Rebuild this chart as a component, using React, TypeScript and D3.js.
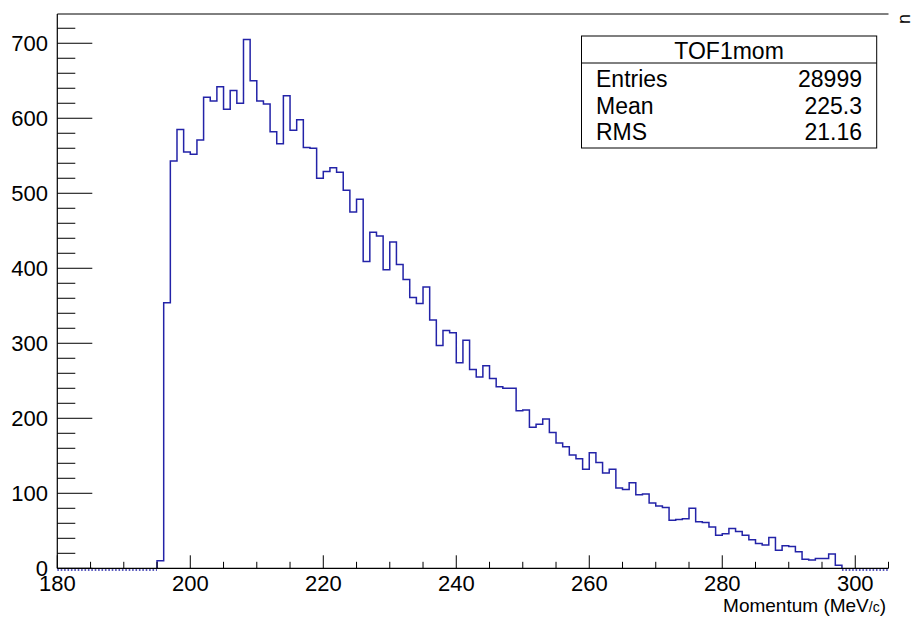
import React from "react";
import * as d3 from "d3";

const xMin = 180;
const xMax = 305;
const nBins = 125;
// counts per 1 MeV/c bin, from 180 to 305
const counts = [
  0, 0, 0, 0, 0, 0, 0, 0, 0, 0, 0, 0, 0, 0, 0, // 180-194
  10, 354, 543, 585, 555, // 195-199
  552, 571, 628, 623, 642, 612, 637, 620, 705, 650, // 200-209
  623, 619, 582, 566, 630, 584, 598, 561, 560, 520, // 210-219
  529, 534, 528, 504, 475, 492, 409, 448, 443, 398, // 220-229
  435, 405, 385, 361, 353, 375, 331, 297, 317, 314, // 230-239
  274, 304, 265, 255, 270, 253, 242, 240, 240, 210, // 240-249
  211, 188, 192, 199, 181, 167, 162, 151, 146, 132, // 250-259
  154, 141, 127, 132, 107, 105, 114, 98, 99, 87, // 260-269
  83, 81, 64, 65, 66, 80, 62, 61, 55, 44, // 270-279
  46, 53, 49, 44, 38, 33, 31, 41, 24, 30, // 280-289
  29, 22, 12, 11, 13, 13, 19, 4, 0, 0, // 290-299
  0, 0, 0, 0, 0, // 300-304
];
const xTicksMajor = [180, 200, 220, 240, 260, 280, 300];
const yTicksMajor = [0, 100, 200, 300, 400, 500, 600, 700];
const statsTitle = "TOF1mom";
const statsLabels = ["Entries", "Mean", "RMS"];
const statsValues = ["28999", "225.3", "21.16"];

const W = 924;
const H = 617;
const FONT = "'Liberation Sans', Arial, Helvetica, sans-serif";
const HIST_COLOR = "#2323a8";

export default function App() {
  const yMax = 739;
  const x = d3.scaleLinear().domain([xMin, xMax]).range([57.3, 888.5]);
  const y = d3.scaleLinear().domain([0, yMax]).range([568.3, 14]);
  const bw = (xMax - xMin) / nBins;

  const first = counts.findIndex((c) => c > 0);
  const last = counts.length - 1 - [...counts].reverse().findIndex((c) => c > 0);

  const pts: [number, number][] = [];
  pts.push([x(xMin + first * bw), y(0)]);
  for (let i = first; i <= last; i++) pts.push([x(xMin + i * bw), y(counts[i])]);
  pts.push([x(xMin + (last + 1) * bw), y(counts[last])]);
  pts.push([x(xMin + (last + 1) * bw), y(0)]);
  const line = d3.line().curve(d3.curveStepAfter);
  const path = line(pts) || "";

  const xMinor = d3.range(xMin, xMax + 0.001, 5);
  const yMinor = d3.range(0, yMax, 20);

  const box = { x0: 581.5, x1: 876.7, y0: 36, y1: 148, div: 63 };
  const rowCenters = [79, 105.5, 132];

  return (
    <svg
      width={W}
      height={H}
      style={{ position: "absolute", left: 0, top: 0, background: "#fff" }}
      fontFamily={FONT}
    >
      <rect x={0} y={0} width={W} height={H} fill="#fff" />
      {/* zero bins dotted */}
      <line
        x1={x(xMin)}
        x2={x(xMin + first * bw)}
        y1={570}
        y2={570}
        stroke={HIST_COLOR}
        strokeWidth={1.3}
        strokeDasharray="1.6,1.8"
      />
      <line
        x1={x(xMin + (last + 1) * bw)}
        x2={x(xMax)}
        y1={570}
        y2={570}
        stroke={HIST_COLOR}
        strokeWidth={1.3}
        strokeDasharray="1.6,1.8"
      />
      <path d={path} fill="none" stroke={HIST_COLOR} strokeWidth={1.5} />

      {/* frame */}
      <line x1={x(xMin)} x2={x(xMax)} y1={14} y2={14} stroke="#000" strokeWidth={1} />
      <line x1={x(xMin)} x2={x(xMin)} y1={14} y2={y(0)} stroke="#000" strokeWidth={1.2} />
      <line x1={x(xMin)} x2={x(xMax)} y1={y(0)} y2={y(0)} stroke="#000" strokeWidth={1.2} />

      {/* y ticks */}
      {yMinor.map((v) => (
        <line
          key={"ym" + v}
          x1={x(xMin)}
          x2={x(xMin) + (v % 100 === 0 ? 35 : 18)}
          y1={y(v)}
          y2={y(v)}
          stroke="#000"
          strokeWidth={1}
        />
      ))}
      {yTicksMajor.map((v) => (
        <text key={"yl" + v} x={48} y={y(v)} dy="0.36em" fontSize={22} textAnchor="end" fill="#000">
          {v}
        </text>
      ))}

      {/* x ticks */}
      {xMinor.map((v) => (
        <line
          key={"xm" + v}
          x1={x(v)}
          x2={x(v)}
          y1={y(0)}
          y2={y(0) - ((v - xMin) % 20 === 0 ? 13 : 6.5)}
          stroke="#000"
          strokeWidth={1}
        />
      ))}
      {xTicksMajor.map((v) => (
        <text key={"xl" + v} x={x(v)} y={591} fontSize={22} textAnchor="middle" fill="#000">
          {v}
        </text>
      ))}

      <text x={886} y={612} fontSize={19} textAnchor="end" fill="#000">
        Momentum (MeV
        <tspan fontSize={14}>/c</tspan>
        <tspan fontSize={19}>)</tspan>
      </text>

      <text x={0} y={0} fontSize={18} fill="#000" transform="translate(910,24) rotate(-90)">
        n
      </text>

      {/* stats box */}
      <rect
        x={box.x0}
        y={box.y0}
        width={box.x1 - box.x0}
        height={box.y1 - box.y0}
        fill="#fff"
        stroke="#000"
        strokeWidth={1}
      />
      <line x1={box.x0} x2={box.x1} y1={box.div} y2={box.div} stroke="#000" strokeWidth={1} />
      <text x={(box.x0 + box.x1) / 2} y={(box.y0 + box.div) / 2 + 1} dy="0.36em" fontSize={23} textAnchor="middle">
        {statsTitle}
      </text>
      {statsLabels.map((l, i) => (
        <g key={l}>
          <text x={596} y={rowCenters[i]} dy="0.36em" fontSize={23}>
            {l}
          </text>
          <text x={862} y={rowCenters[i]} dy="0.36em" fontSize={23} textAnchor="end">
            {statsValues[i]}
          </text>
        </g>
      ))}
    </svg>
  );
}
